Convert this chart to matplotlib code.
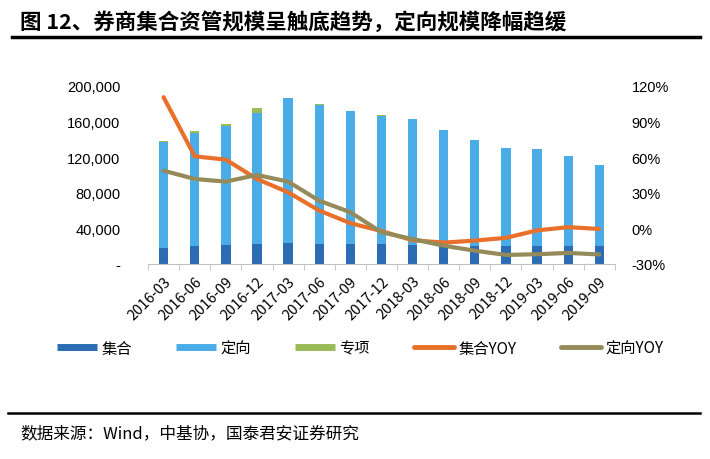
import numpy as np
import matplotlib.pyplot as plt
from matplotlib.lines import Line2D

plt.rcParams['font.family'] = ['Noto Sans CJK SC', 'DejaVu Sans']

dates = ['2016-03', '2016-06', '2016-09', '2016-12', '2017-03', '2017-06', '2017-09',
         '2017-12', '2018-03', '2018-06', '2018-09', '2018-12', '2019-03', '2019-06', '2019-09']
# 规模（亿元）
jihe = [18000, 20000, 21700, 22800, 24000, 22800, 22800, 22000, 21700, 21700, 20600, 19900, 20600, 19900, 19900]
dingxiang = [119400, 126800, 133000, 147200, 162000, 155600, 148800, 144700, 141300, 129300, 119100, 110800, 108400, 101800, 91100]
zhuanxiang = [1000, 2500, 2500, 5000, 700, 1000, 500, 300, 0, 0, 0, 0, 0, 0, 0]
# 同比（%）
jihe_yoy = [110.5, 60.7, 57.9, 41.6, 30.4, 15.0, 4.4, -2.3, -10.0, -12.0, -10.3, -8.0, -1.7, 1.0, -0.5]
dingxiang_yoy = [48.6, 41.6, 39.4, 45.0, 39.4, 23.3, 13.6, -3.3, -9.0, -14.6, -18.8, -22.4, -21.8, -20.7, -22.0]

c_jihe = '#2B6CB5'
c_dx = '#4BADE8'
c_zx = '#9BBB59'
c_jyoy = '#E8702A'
c_dyoy = '#948A5A'

fig = plt.figure(figsize=(7.1, 4.6), dpi=100)
ax = fig.add_axes([0.2085, 0.424, 0.6575, 0.387])

x = np.arange(len(dates))
w = 0.3
ax.bar(x, jihe, w, color=c_jihe)
ax.bar(x, dingxiang, w, bottom=jihe, color=c_dx)
ax.bar(x, zhuanxiang, w, bottom=np.array(jihe) + np.array(dingxiang), color=c_zx)

ax.set_xlim(-0.5, len(dates) - 0.5)
ax.set_ylim(0, 200000)
ax.set_yticks(np.arange(0, 200001, 40000))
ax.set_yticklabels(['-'] + ['{:,}'.format(v) for v in range(40000, 200001, 40000)],
                   fontsize=10.5, family='Liberation Sans')
ax.set_xticks(x)
ax.set_xticklabels(dates, rotation=45, ha='right', rotation_mode='anchor', fontsize=10.5)
ax.set_xticks(np.arange(-0.5, len(dates), 1), minor=True)
ax.tick_params(axis='x', which='major', length=0, pad=7)
ax.tick_params(axis='x', which='minor', length=4, color='#BFBFBF')
ax.tick_params(axis='y', length=0, pad=20)
for s in ['top', 'left', 'right']:
    ax.spines[s].set_visible(False)
ax.spines['bottom'].set_color('#BFBFBF')

ax2 = ax.twinx()
ax2.plot(x, jihe_yoy, color=c_jyoy, lw=3, solid_capstyle='round', solid_joinstyle='round')
ax2.plot(x, dingxiang_yoy, color=c_dyoy, lw=3, solid_capstyle='round', solid_joinstyle='round')
ax2.set_ylim(-30, 120)
ax2.set_yticks(np.arange(-30, 121, 30))
ax2.set_yticklabels(['{}%'.format(v) for v in range(-30, 121, 30)], fontsize=10.5,
                    family='Liberation Sans')
ax2.tick_params(axis='y', length=0, pad=12)
for s in ['top', 'left', 'right', 'bottom']:
    ax2.spines[s].set_visible(False)

handles = [
    Line2D([], [], color=c_jihe, lw=5, solid_capstyle='butt'),
    Line2D([], [], color=c_dx, lw=5, solid_capstyle='butt'),
    Line2D([], [], color=c_zx, lw=5, solid_capstyle='butt'),
    Line2D([], [], color=c_jyoy, lw=3.5, solid_capstyle='round'),
    Line2D([], [], color=c_dyoy, lw=3.5, solid_capstyle='round'),
]
labels = ['集合', '定向', '专项', '集合YOY', '定向YOY']
fig.legend(handles, labels, loc='center', bbox_to_anchor=(0.507, 0.241), ncol=5, frameon=False,
           fontsize=11, handlelength=2.6, handletextpad=0.3, columnspacing=2.9)

fig.text(0.028, 1 - 22 / 460, '图 12、券商集合资管规模呈触底趋势，定向规模降幅趋缓', fontsize=15.5,
         fontweight='bold', va='center', ha='left')
fig.add_artist(Line2D([0.017, 0.986], [1 - 38 / 460, 1 - 38 / 460], color='black', lw=2.5))
fig.add_artist(Line2D([0.011, 0.986], [1 - 414 / 460, 1 - 414 / 460], color='black', lw=1.8))
fig.text(0.028, 1 - 434 / 460, '数据来源：Wind，中基协，国泰君安证券研究', fontsize=12,
         va='center', ha='left')

fig.savefig('out.png', dpi=100)
